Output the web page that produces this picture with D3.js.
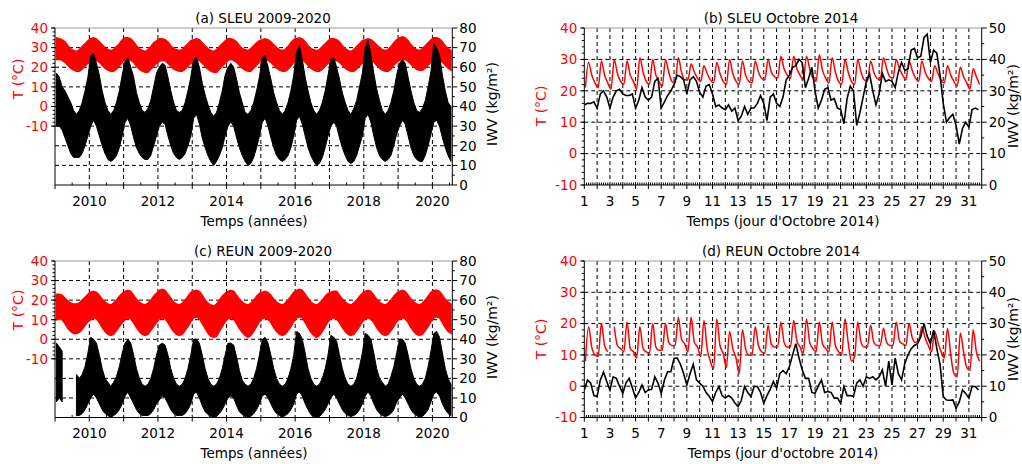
<!DOCTYPE html>
<html><head><meta charset="utf-8">
<script src="https://cdn.jsdelivr.net/npm/d3@7"></script>
<style>
body{margin:0;background:#fff;overflow:hidden}
svg{display:block}
text{font-family:"DejaVu Sans",Verdana,sans-serif}
</style></head>
<body><svg id="chart" width="1022" height="464"></svg>
<script>
// ================= DATA =================
// Long series: monthly envelopes, Jan 2009 .. Jul 2020 (139 months)
const sleuTmax = [
 35,34.5,34,33,31,29.5,28.5,28,29,30.5,32,33.5,
 34.5,35,34.5,33,31.5,30,29,28.5,29,30.5,32,34,
 35,35,34.5,33,31,29.5,28.5,28,29,30.5,32.5,33.5,
 34.5,34.5,34,33,31,29.5,29,28.5,29,30.5,32,33.5,
 34,34.5,34,32.5,31,29.5,28.5,28,29,30.5,32,33.5,
 34.5,34.5,34,33,31,29.5,29,28.5,29.5,31,32.5,33.5,
 34,34.5,34,33,31.5,30,29,28.5,29,30.5,32.5,34,
 34.5,35,34.5,33,31,29.5,29,28.5,29,30.5,32,33.5,
 34.5,34.5,34,33,31,29.5,28.5,28,29,30.5,32,33.5,
 34,34.5,34,33,31.5,30,29,28.5,29,30.5,32.5,34,
 35,35.5,35,33.5,31.5,30,29,28.5,29.5,31,32.5,34,
 35,35,34.5,33,31,29.5,28.5];
const sleuTmin = [
 24,24,23.5,22.5,21,19.5,18.5,18,18,19,20.5,22,
 23,23.5,23.5,22.5,21,19.5,18.5,18,18,19,20.5,22.5,
 23.5,24,23.5,22.5,20.5,19,18,17.5,17.5,19,20.5,22,
 23,23.5,23.5,22,20.5,19,18.5,18,18,19,20.5,22,
 23,23.5,23.5,22,20.5,19,18,17.5,17.5,19,20.5,22,
 23.5,24,23.5,22.5,21,19.5,18.5,18,18,19.5,21,22.5,
 23.5,24,23.5,22.5,21,19.5,18.5,18,18,19,20.5,22.5,
 23.5,24,24,22.5,21,19.5,18.5,18,18,19,20.5,22,
 23,23.5,23.5,22.5,21,19.5,18.5,18,18,19,20.5,22,
 23,23.5,23.5,22.5,21,19.5,18.5,18,18,19,21,22.5,
 23.5,24,24,23,21.5,20,19,18.5,18.5,19.5,21,22.5,
 23.5,24,23.5,22.5,21,19.5,18.5];
const sleuIWVmax = [
 57,55,50,48,45,42,38,36,38,42,48,55,
 66,67,62,56,48,42,38,36,38,42,48,56,
 63,65,60,55,47,42,38,37,39,43,50,57,
 60,62,61,55,48,42,38,37,38,42,48,55,
 64,65,60,52,46,41,37,35,37,42,48,56,
 60,62,60,54,47,42,37,36,38,42,48,55,
 65,66,60,54,47,42,38,36,38,42,48,56,
 68,71,64,55,48,42,38,36,38,42,48,56,
 64,65,60,54,47,42,38,36,39,43,50,57,
 70,74,66,57,49,43,38,36,38,42,48,56,
 62,64,62,55,48,42,38,37,39,43,50,58,
 72,70,66,56,48,42,40];
const sleuIWVmin = [
 30,30,28,24,20,16,14,14,14,16,20,25,
 30,33,30,25,20,16,13,12,13,15,19,25,
 32,34,30,24,19,16,14,13,13,15,20,25,
 30,32,31,25,20,16,14,13,14,16,20,25,
 34,36,31,24,19,15,12,10,12,15,19,25,
 30,32,30,24,19,15,12,10,11,14,19,25,
 32,34,30,24,19,15,13,12,13,15,19,25,
 33,35,31,25,19,15,12,10,11,14,19,25,
 30,32,30,24,19,15,12,11,12,15,20,25,
 34,36,32,25,19,15,13,12,13,15,20,26,
 30,33,31,25,19,15,13,12,12,15,20,26,
 32,33,30,24,19,15,12];
const reunTmax = [
 23,23,22.5,21,19.5,18.5,18,18,18.5,20,21.5,23,
 24,24.5,24,22.5,20.5,19,18,17.5,18.5,20,22,23.5,
 24.5,25,24.5,22.5,20.5,19,18,17.5,18.5,20,22,23.5,
 25,25.5,25,23,21,19,18,17.5,18.5,20,22,24,
 24.5,25,24.5,22.5,20,18.5,17.5,17,18,20,22,23.5,
 24.5,25,24.5,22.5,20.5,19,18,17.5,18.5,20,22,23.5,
 24,24.5,24,22.5,20.5,19,18,17.5,18.5,20,22,24,
 25,25.5,25,23,21,19,18,17.5,18.5,20,22,23.5,
 24,24.5,24.5,22.5,20.5,19,18,17.5,18.5,20,22,23.5,
 24.5,25,24.5,22.5,20.5,19,18,17.5,18.5,20,22,23.5,
 24.5,25,24.5,22.5,20.5,19,18,17.5,18.5,20,22,24,
 25,25,24.5,22.5,20.5,19,18];
const reunTmin = [
 10,10.5,10,8,5.5,4,3,3,3.5,5,7,9,
 10,11,10.5,8.5,6,4,2.5,2,2.5,4.5,6.5,8.5,
 10,11,10.5,8.5,6,4,2.5,2,2.5,4.5,6.5,8.5,
 10.5,11,10.5,8.5,6,4,2.5,2,2.5,4.5,6.5,9,
 11,11.5,10.5,8,5.5,3,1.5,1,1.5,4,6.5,9,
 10.5,11,10.5,8,5.5,3.5,2,1,2,4,6.5,9,
 10.5,11,10.5,8.5,6,4,2.5,2,2.5,4.5,6.5,9,
 11,11.5,11,8.5,6,3.5,2,1,2,4,6.5,9,
 10.5,11,10.5,8.5,6,4,2.5,2,2.5,4.5,6.5,9,
 10.5,11,10.5,8.5,6,4,2.5,2,2.5,4.5,6.5,9,
 10.5,11,10.5,8.5,6,4,2.5,2,2.5,4.5,6.5,9,
 11,11.5,11,8.5,6,4,3];
const reunIWVmax = [
 38,36,34,null,null,null,null,22,20,22,26,33,
 41,40,38,32,25,20,18,16,18,21,26,33,
 38,40,38,32,25,20,17,16,17,20,25,32,
 37,38,37,32,25,20,17,16,17,20,25,32,
 40,40,38,32,25,20,17,16,17,20,25,32,
 38,38,37,31,24,19,17,16,17,20,25,32,
 40,41,38,32,25,20,17,16,17,20,25,32,
 44,43,40,33,25,20,17,16,17,20,25,32,
 42,41,39,32,25,20,17,16,17,20,26,33,
 43,42,40,33,25,20,18,16,17,21,26,33,
 40,40,38,32,25,20,17,16,17,20,26,34,
 43,44,41,33,25,20,17];
const reunIWVmin = [
 8,10,8,null,null,null,null,1,1,2,4,7,
 10,12,10,7,4,2,1,0,1,2,4,7,
 11,13,10,7,4,2,1,1,1,2,4,7,
 9,11,10,7,4,2,1,1,1,2,4,7,
 12,13,10,6,3,1.5,0.5,0,0.5,2,4,7,
 10,11,10,6,3,1.5,0.5,0,0.5,2,4,7,
 11,12,10,7,4,2,1,0,1,2,4,7,
 12,13,11,7,4,1.5,0.5,0,0.5,2,4,7,
 10,12,10,7,4,2,1,0.5,1,2,4,7,
 11,13,11,7,4,2,1,0.5,1,2,4,8,
 10,12,10,7,4,2,1,0,0.5,2,4,8,
 12,13,11,7,4,2,1];

// October 2014: temperature samples per day at these UTC hours
const hoursT = [2, 8, 14, 20];
const sleuOctT = [
 [21,29,25,22.5],[21,29.5,25,22.5],[20.5,30,25.5,23],[22,29.5,25,23],[20.5,30.5,26,23],
 [22,30,25,23],[21.5,30,26,23],[22.5,30.5,26,23.5],[23.5,28.5,26,24],[23,28,25.5,23.5],
 [22.5,29,25.5,23],[22,30,25.5,23],[22,29.5,25,23],[22.5,29.5,26,24],[23.5,30,26,24.5],
 [24,31,27,25],[24,31,27,25],[23.5,31,27,24],[23,31.5,26.5,24],[22.5,30.5,26,23],
 [22,30,26,23],[22,30,26,23.5],[23,29.5,26,24],[23.5,30.5,27,24.5],[24,30,27,25],
 [23.5,29.5,26.5,24],[23,29.5,26,24],[23,28,25.5,23.5],[22.5,28,25,23],[21.5,27.5,24.5,22.5],
 [20.5,27,24.5,22]];
const reunOctT = [
 [8,19,12.5,10],[9.5,20,13,11],[null,19,13,12],[11,20.5,12,11],[9,19,12,11],
 [10.5,20,12.5,11.5],[11.5,20,14,13],[13,22,15,13.5],[11,22,14,12.5],[9.5,21,12,8],
 [5.5,21.5,13,10.5],[6,17.5,12,9],[4,18,12,10],[10,19,13,11],[10.5,19.5,13.5,12.5],
 [12.5,20.5,14,12.5],[12.5,21,14.5,12.5],[10.5,21.5,14,12],[11,20.5,13.5,12],[11,20.5,13,11],
 [10,21.5,14,8],[9.5,20.5,14,12.5],[12.5,19.5,14,13],[13,18.5,14,13],[13,20.5,14.5,13.5],
 [13,20,15.5,14],[14.5,19,15.5,13],[11,17.5,14,11],[9,18.5,10,4],[3,17,11,6],
 [5,18,11,8]];
// October 2014: IWV samples per day at these UTC hours
const hoursIWV = [0, 6, 12, 18];
const sleuOctIWV = [
 [25.5,26,26,26.5],[24.5,29,30,28],[24.5,28,30,30.5],[29,28.5,28.5,29],[24.5,27,31,28],
 [27,28,33,34],[24.5,26.5,28.5,30],[32,35,34.5,33.5],[29,33.5,34.5,33],[29.5,28,31.5,32],
 [29,25,25.5,24.5],[24,25.5,23.5,24.5],[20.5,22,25,22.5],[24.5,24.5,26,28.5],[26,20.5,28,29],
 [26,25,28,33.5],[35,37.5,38,40],[39,31,34,37.5],[30,24.5,27,30.5],[31,27,27.5,24.5],
 [24,19.5,27.5,31.5],[30,19,23,28],[33,35.5,30,25.5],[29,35.5,33,33.5],[33,31,36,39],
 [36.5,37,43,43.5],[40.5,41,47,48],[39,43,42,35],[26,20,21.5,22.5],[19,13,18,20],
 [18.5,24,24.5,24]];
const reunOctIWV = [
 [8.8,12,11,7],[6.7,12,14.5,11.5],[8.8,13,12.5,10],[7.7,11,12.5,9.5],[6.2,8,10.4,8],
 [8.8,9,13,11],[7.7,12,14.6,14.6],[18.9,19,17,14],[10.4,14,17,12],[11,10,8,6.7],
 [5.1,8,9.9,7],[6.2,7,6.2,4.6],[3.5,5.5,9.9,8],[6.7,9.9,9.9,8],[4.6,7,9,11.5],
 [9.4,14,15,14],[16.2,20,23.6,19],[15.2,12.5,12.5,8],[7.7,10,12,8],[8.3,8,6.2,6.2],
 [4.6,9.9,7,7],[6.7,11,12,10],[13,12.5,13,12],[13,15.2,10,18],[10.4,19,14,12],
 [17.3,20,22,23],[23.6,25.8,30,26],[23.6,27.9,22,17],[6.7,5.6,5.5,5.6],[3,5,8.8,7.7],
 [6.2,9.9,9.9,8.8]];

// Axis ticks
const yearTicks = [2009,2010,2011,2012,2013,2014,2015,2016,2017,2018,2019,2020];
const yearLabels = [2010,2012,2014,2016,2018,2020];
const dayLabels = [1,3,5,7,9,11,13,15,17,19,21,23,25,27,29,31];

// ================= DRAWING =================
const svg = d3.select("#chart");
const RED = "#ff0000";
const FS = 13.5;

function dashedGrid(g, xs, ys, x0, x1, y0, y1) {
  g.selectAll(null).data(xs).join("line")
    .attr("x1", d => d).attr("x2", d => d).attr("y1", y0).attr("y2", y1)
    .attr("stroke", "#000").attr("stroke-width", 1).attr("stroke-dasharray", "4,3");
  g.selectAll(null).data(ys).join("line")
    .attr("x1", x0).attr("x2", x1).attr("y1", d => d).attr("y2", d => d)
    .attr("stroke", "#000").attr("stroke-width", 1).attr("stroke-dasharray", "4,3");
}
function ticks(g, list, fn) {
  g.selectAll(null).data(list).join("line").each(function(d){ const a = fn(d); d3.select(this).attr("x1",a[0]).attr("y1",a[1]).attr("x2",a[2]).attr("y2",a[3]); })
    .attr("stroke", "#000").attr("stroke-width", 1);
}

function panel(cfg) {
  const g = svg.append("g");
  const {x0, x1, y0, y1} = cfg;
  const x = d3.scaleLinear().domain(cfg.xDomain).range([x0, x1]);
  const yT = d3.scaleLinear().domain(cfg.tDomain).range([y1, y0]);
  const yW = d3.scaleLinear().domain(cfg.wDomain).range([y1, y0]);

  const gridY = d3.range(cfg.wDomain[0] + 10, cfg.wDomain[1], 10).map(yW);
  dashedGrid(g, cfg.gridX.map(x), gridY, x0, x1, y0, y1);

  const clip = "clip" + cfg.id;
  svg.append("clipPath").attr("id", clip).append("rect").attr("x", x0).attr("y", y0).attr("width", x1 - x0).attr("height", y1 - y0);
  const gd = g.append("g").attr("clip-path", `url(#${clip})`);
  cfg.drawData(gd, x, yT, yW);

  g.append("line").attr("x1", x0).attr("x2", x1).attr("y1", y0).attr("y2", y0).attr("stroke", "#999").attr("stroke-width", 1.2);
  g.append("line").attr("x1", x0).attr("x2", x0).attr("y1", y0).attr("y2", y1).attr("stroke", "#000");
  g.append("line").attr("x1", x1).attr("x2", x1).attr("y1", y0).attr("y2", y1).attr("stroke", "#000");
  g.append("line").attr("x1", x0).attr("x2", x1).attr("y1", y1).attr("y2", y1).attr("stroke", "#000");

  ticks(g, cfg.tMajor, d => [x0 - 4, yT(d), x0, yT(d)]);
  ticks(g, cfg.tMinor, d => [x0 - 2.5, yT(d), x0, yT(d)]);
  g.selectAll(null).data(cfg.tMajor).join("text")
    .attr("x", x0 - 7).attr("y", d => yT(d)).attr("dy", "0.36em")
    .attr("text-anchor", "end").attr("font-size", FS).attr("fill", RED).text(d => d);
  ticks(g, cfg.wMajor, d => [x1, yW(d), x1 + 5, yW(d)]);
  ticks(g, cfg.wMinor, d => [x1, yW(d), x1 + 2.5, yW(d)]);
  g.selectAll(null).data(cfg.wMajor).join("text")
    .attr("x", x1 + 7).attr("y", d => yW(d)).attr("dy", "0.36em")
    .attr("text-anchor", "start").attr("font-size", FS).attr("fill", "#000").text(d => d);
  ticks(g, cfg.xMajor, d => [x(d), y1, x(d), y1 + 4]);
  ticks(g, cfg.xMinor, d => [x(d), y1, x(d), y1 - 2.5]);
  g.selectAll(null).data(cfg.xLabels).join("text")
    .attr("x", d => x(d)).attr("y", y1 + 20.5)
    .attr("text-anchor", "middle").attr("font-size", FS).attr("fill", "#000").text(d => d);

  g.append("text").attr("x", cfg.titleX).attr("y", y0 - 5.5).attr("text-anchor", "middle")
    .attr("font-size", FS).text(cfg.title);
  g.append("text").attr("x", cfg.xlabX).attr("y", y1 + 40.5).attr("text-anchor", "middle")
    .attr("font-size", FS).text(cfg.xlabel);
  g.append("text").attr("transform", `translate(${cfg.tLabX},${cfg.tLabY}) rotate(-90)`)
    .attr("text-anchor", "middle").attr("font-size", 14).attr("fill", RED).text("T (°C)");
  g.append("text").attr("transform", `translate(${cfg.wLabX},${cfg.wLabY}) rotate(-90)`)
    .attr("text-anchor", "middle").attr("font-size", 14).attr("fill", "#000").text("IWV (kg/m²)");
}

function longData(tmax, tmin, wmax, wmin) {
  return function(gd, x, yT, yW) {
    const tm = i => 2009 + (i + 0.5) / 12;
    const idx = d3.range(tmax.length);
    gd.append("path").datum(idx)
      .attr("d", d3.area().defined(i => tmax[i] != null).x(i => x(tm(i))).y0(i => yT(tmin[i])).y1(i => yT(tmax[i])))
      .attr("fill", RED).attr("stroke", RED).attr("stroke-width", 1.5);
    gd.append("path").datum(idx)
      .attr("d", d3.area().defined(i => wmax[i] != null).x(i => x(tm(i))).y0(i => yW(wmin[i])).y1(i => yW(wmax[i])))
      .attr("fill", "#000").attr("stroke", "#000").attr("stroke-width", 1);
  };
}
function octData(tDays, wDays) {
  return function(gd, x, yT, yW) {
    const tPts = [];
    tDays.forEach((vals, di) => vals.forEach((v, k) => tPts.push([1 + di + hoursT[k] / 24, v])));
    const wPts = [];
    wDays.forEach((vals, di) => vals.forEach((v, k) => wPts.push([1 + di + hoursIWV[k] / 24, v])));
    gd.append("path").datum(tPts)
      .attr("d", d3.line().defined(d => d[1] != null).curve(d3.curveMonotoneX).x(d => x(d[0])).y(d => yT(d[1])))
      .attr("fill", "none").attr("stroke", RED).attr("stroke-width", 1.5);
    gd.append("path").datum(wPts)
      .attr("d", d3.line().defined(d => d[1] != null).x(d => x(d[0])).y(d => yW(d[1])))
      .attr("fill", "none").attr("stroke", "#000").attr("stroke-width", 1.6);
  };
}

const longCommon = {
  x0: 55, x1: 452.3, xDomain: [2009, 2020.58], tDomain: [-40, 40], wDomain: [0, 80],
  gridX: yearTicks.slice(1), xMajor: yearTicks, xMinor: yearTicks.map(d => d + 0.5).filter(d => d < 2020.58),
  xLabels: yearLabels,
  tMajor: [-10, 0, 10, 20, 30, 40], tMinor: d3.range(-10, 41, 2),
  wMajor: [0, 10, 20, 30, 40, 50, 60, 70, 80], wMinor: d3.range(5, 80, 10),
  titleX: 263, xlabX: 254, tLabX: 22.5, wLabX: 497, xlabel: "Temps (années)"
};
const octCommon = {
  x0: 584.3, x1: 981.7, xDomain: [1, 32], tDomain: [-10, 40], wDomain: [0, 50],
  gridX: d3.range(2, 32), xMajor: d3.range(1, 33), xMinor: d3.range(1, 32, 1/6).filter(d => Math.abs(d - Math.round(d)) > 0.01),
  xLabels: dayLabels,
  tMajor: [-10, 0, 10, 20, 30, 40], tMinor: d3.range(-10, 41, 2),
  wMajor: [0, 10, 20, 30, 40, 50], wMinor: [5, 15, 25, 35, 45],
  titleX: 781, xlabX: 783, tLabX: 546, wLabX: 1018
};

panel(Object.assign({}, longCommon, {id: "a", y0: 28, y1: 185, title: "(a) SLEU 2009-2020",
  tLabY: 79, wLabY: 104, drawData: longData(sleuTmax, sleuTmin, sleuIWVmax, sleuIWVmin)}));
panel(Object.assign({}, longCommon, {id: "c", y0: 261, y1: 417.5, title: "(c) REUN 2009-2020",
  tLabY: 310, wLabY: 337, drawData: longData(reunTmax, reunTmin, reunIWVmax, reunIWVmin)}));
panel(Object.assign({}, octCommon, {id: "b", y0: 28, y1: 185, title: "(b) SLEU Octobre 2014",
  xlabel: "Temps (jour d'Octobre 2014)", tLabY: 106, wLabY: 106, drawData: octData(sleuOctT, sleuOctIWV)}));
panel(Object.assign({}, octCommon, {id: "d", y0: 261, y1: 417.5, title: "(d) REUN Octobre 2014",
  xlabel: "Temps (jour d'octobre 2014)", tLabY: 339, wLabY: 339, drawData: octData(reunOctT, reunOctIWV)}));
</script>
</body></html>
